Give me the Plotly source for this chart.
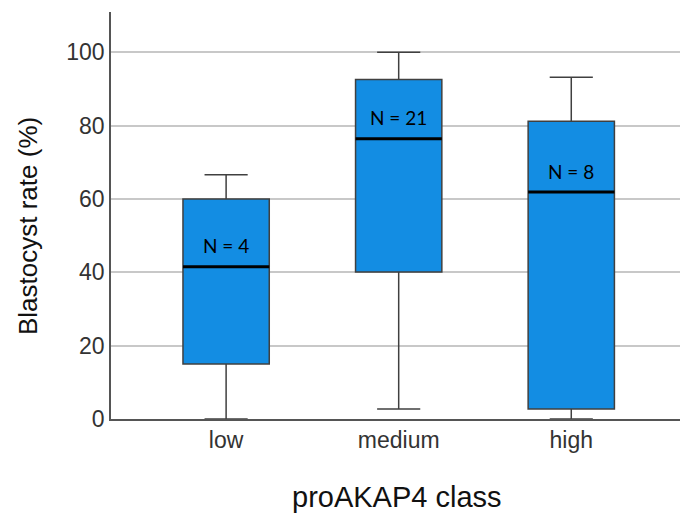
import plotly.graph_objects as go

categories = ["low", "medium", "high"]
n_counts = [4, 21, 8]
lower = [0.0, 2.7, 0.0]
q1 = [15.0, 40.1, 2.7]
median = [41.5, 76.4, 61.9]
q3 = [60.0, 92.6, 81.2]
upper = [66.6, 100.0, 93.2]
y_ticks = [0, 20, 40, 60, 80, 100]

xpos = list(range(len(categories)))
BOX_W = 0.5

fig = go.Figure()
fig.add_trace(go.Box(
    x=xpos, q1=q1, median=median, q3=q3, lowerfence=lower, upperfence=upper,
    width=BOX_W, whiskerwidth=0.5, fillcolor="#138de3",
    line=dict(color="#404040", width=1.5), boxpoints=False, hoverinfo="skip",
    showlegend=False,
))
# thicker black median lines
for i, m in zip(xpos, median):
    fig.add_trace(go.Scatter(
        x=[i - BOX_W / 2, i + BOX_W / 2], y=[m, m], mode="lines",
        line=dict(color="black", width=3), showlegend=False, hoverinfo="skip",
    ))

for i, m, n in zip(xpos, median, n_counts):
    fig.add_annotation(
        x=i, y=m, text=f"N = {n}", showarrow=False, yshift=21,
        font=dict(family="Lato, Open Sans, sans-serif", size=19, color="black"),
    )

# axis titles as annotations for precise placement
fig.add_annotation(
    xref="paper", yref="paper", x=-0.146, y=0.474, text="Blastocyst rate (%)",
    textangle=-90, showarrow=False, xanchor="center", yanchor="middle",
    font=dict(size=26, color="#111"),
)
fig.add_annotation(
    xref="paper", yref="paper", x=0.503, y=-0.192, text="proAKAP4 class",
    showarrow=False, xanchor="center", yanchor="middle",
    font=dict(size=29, color="#111"),
)

fig.update_layout(
    width=680, height=513, margin=dict(l=111, r=0, t=12, b=94),
    plot_bgcolor="white", paper_bgcolor="white",
    font=dict(family="Liberation Sans, Arial, sans-serif"),
    xaxis=dict(
        range=[-0.667, 2.63], tickmode="array", tickvals=xpos, ticktext=categories,
        showgrid=False, zeroline=False, showline=True, linecolor="#555",
        linewidth=1.5, tickfont=dict(size=23, color="#333"), ticks="",
    ),
    yaxis=dict(
        range=[0, 111], tickmode="array", tickvals=y_ticks,
        showgrid=True, gridcolor="#c8c8c8", gridwidth=1.8, zeroline=False,
        showline=True, linecolor="#555", linewidth=1.5,
        tickfont=dict(size=23, color="#333"), ticks="",
    ),
)

fig.write_html("out.html")
